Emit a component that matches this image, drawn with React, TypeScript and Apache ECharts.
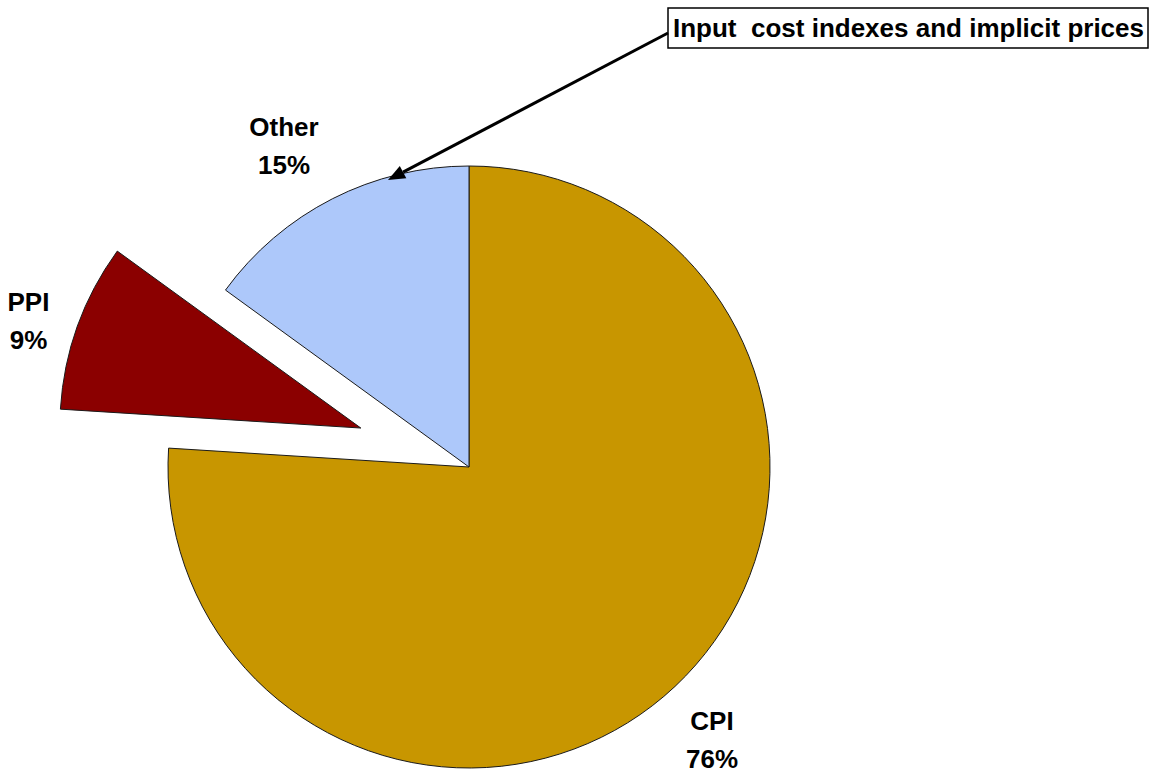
import React, { useEffect, useRef } from "react";
import * as echarts from "echarts";

const categories = ["CPI", "PPI", "Other"];
const shares = [76, 9, 15];
const exploded = [false, true, false];
const sliceColors = ["#C89600", "#8B0000", "#ADC8FA"];
const annotationText = "Input  cost indexes and implicit prices";

// label anchor positions (label centers)
const labelCenters: number[][] = [
  [712, 740],
  [38, 306],
  [284, 146],
];

const FONT = "'Liberation Sans', Arial, sans-serif";

export default function App() {
  const ref = useRef<HTMLDivElement>(null);
  useEffect(() => {
    if (!ref.current) return;
    const chart = echarts.init(ref.current, undefined, { renderer: "svg" });

    // arrow geometry (annotation)
    const start = [668, 33];
    const tip = [388, 180];
    const dx = tip[0] - start[0];
    const dy = tip[1] - start[1];
    const len = Math.sqrt(dx * dx + dy * dy);
    const ux = dx / len;
    const uy = dy / len;
    const headLen = 17;
    const headHalf = 7;
    const bx = tip[0] - ux * headLen;
    const by = tip[1] - uy * headLen;
    const nx = -uy * headHalf;
    const ny = ux * headHalf;

    const data = categories.map((name, i) => ({
      name,
      value: shares[i],
      selected: exploded[i],
      itemStyle: { color: sliceColors[i] },
      select: { itemStyle: { color: sliceColors[i], borderColor: "#1a1a1a", borderWidth: 1 } },
    }));

    chart.setOption({
      animation: false,
      backgroundColor: "#ffffff",
      series: [
        {
          type: "pie",
          center: [469, 467],
          radius: 301,
          startAngle: 90,
          clockwise: true,
          selectedMode: "single",
          selectedOffset: 115,
          emphasis: { disabled: true },
          itemStyle: { borderColor: "#1a1a1a", borderWidth: 1 },
          label: {
            show: true,
            position: "outside",
            formatter: "{b}\n{c}%",
            fontFamily: FONT,
            fontWeight: "bold",
            fontSize: 26,
            lineHeight: 38,
            color: "#000",
            align: "center",
          },
          labelLine: { show: false },
          labelLayout: (params: any) => ({
            x: labelCenters[params.dataIndex][0],
            y: labelCenters[params.dataIndex][1],
            align: "center",
            verticalAlign: "middle",
          }),
          data,
        },
      ],
      graphic: [
        {
          type: "rect",
          z: 100,
          shape: { x: 668, y: 8, width: 480, height: 40 },
          style: { fill: "#fff", stroke: "#000", lineWidth: 1.5 },
        },
        {
          type: "text",
          z: 101,
          x: 673,
          y: 28,
          style: {
            text: annotationText,
            fontFamily: FONT,
            fontWeight: "bold",
            fontSize: 26,
            fill: "#000",
            verticalAlign: "middle",
            align: "left",
          },
        },
        {
          type: "line",
          z: 100,
          shape: { x1: start[0], y1: start[1], x2: bx, y2: by },
          style: { stroke: "#000", lineWidth: 3 },
        },
        {
          type: "polygon",
          z: 100,
          shape: {
            points: [
              [tip[0], tip[1]],
              [bx + nx, by + ny],
              [bx - nx, by - ny],
            ],
          },
          style: { fill: "#000" },
        },
      ],
    });
    return () => chart.dispose();
  }, []);
  return (
    <div
      ref={ref}
      style={{ position: "fixed", left: 0, top: 0, width: 1153, height: 773 }}
    />
  );
}
